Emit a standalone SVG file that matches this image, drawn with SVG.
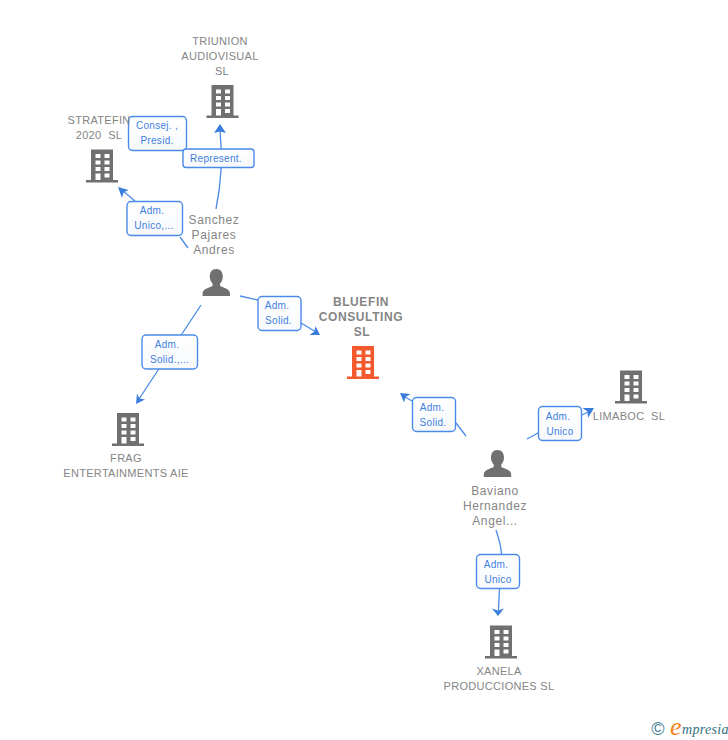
<svg xmlns="http://www.w3.org/2000/svg" width="728" height="740" viewBox="0 0 728 740">
<style>
.t{font-family:"Liberation Sans",Arial,sans-serif;font-size:11px;fill:#858585;text-anchor:middle;letter-spacing:.3px;white-space:pre}
.p{font-size:12px;letter-spacing:.6px}
.b{font-weight:bold;font-size:12px;letter-spacing:.6px}
.l{font-family:"Liberation Sans",Arial,sans-serif;font-size:10px;fill:#3f7fe0;text-anchor:middle;letter-spacing:.3px}
.box{fill:url(#g);stroke:#4a8be8;stroke-width:1.4}
.c{fill:none;stroke:#4a8be8;stroke-width:1.3}
.a{fill:#3a7ddd}
</style>
<defs>
<linearGradient id="g" x1="0" y1="0" x2="0" y2="1"><stop offset="0" stop-color="#ffffff"/><stop offset="1" stop-color="#f7f9fc"/></linearGradient>
<path id="bld" fill-rule="evenodd" d="M-11-0H11V30.500H16V33H-16V30.500H-11ZM-6.500 4.500V8.500H-1.500V4.500ZM2.500 4.500V8.500H7.500V4.500ZM-6.500 11V15H-1.500V11ZM2.500 11V15H7.500V11ZM-6.500 17.500V21.500H-1.500V17.500ZM2.500 17.500V21.500H7.500V17.500ZM-6.500 24V30.500H-1.500V24ZM2.500 24V28H7.500V24Z"/>
<path id="per" d="M0 0C4.500 0 6.500 3.500 6.500 7.500C6.500 10.500 5.300 13 3.800 14.500V17C6 18.500 13.700 19.500 13.700 24.500V27H-13.700V24.500C-13.700 19.500 -6 18.500 -3.800 17V14.500C-5.300 13 -6.500 10.500 -6.500 7.500C-6.500 3.500 -4.500 0 0 0Z"/>
</defs>
<rect width="728" height="740" fill="#ffffff"/>
<g id="connectors">
<path class="c" d="M216 209Q224 170 220 130"/><path class="a" d="M220 124L226 133L220 131.500L214 133Z"/>
<path class="c" d="M188 248L180 237M135 201L123 191"/><path class="a" d="M118 187L128.500 190L123.500 192.500L122 198Z"/>
<path class="c" d="M201 305L139 399"/><path class="a" d="M136 404L137 393.500L139.500 398.500L145 399.500Z"/>
<path class="c" d="M240 296L258 300M301 323L316 332"/><path class="a" d="M320 335L309.500 335L314.500 331.500L315.500 326Z"/>
<path class="c" d="M466 436L456 423M412 401L405 397"/><path class="a" d="M400 393L410.500 394L405.500 397L404 402.500Z"/>
<path class="c" d="M527 439L538 433M582 415L590 411"/><path class="a" d="M594 408L588 418L587.500 411.500L582.500 408Z"/>
<path class="c" d="M496 530Q501 545 501.500 554M499.500 589L498.500 610"/><path class="a" d="M498 616L492 608.500L498 610.500L504 608.500Z"/>
</g>
<g id="edge-labels">
<rect class="box" x="128.500" y="116.500" width="58" height="34" rx="4"/><text class="l" x="157" y="129">Consej. ,</text><text class="l" x="157" y="144">Presid.</text>
<rect class="box" x="183" y="149" width="71" height="18.500" rx="3"/><text class="l" x="216" y="162">Represent.</text>
<rect class="box" x="127" y="201.500" width="55.500" height="34" rx="4"/><text class="l" x="152" y="214">Adm.</text><text class="l" x="154" y="229">Unico,...</text>
<rect class="box" x="258" y="296.500" width="43" height="34" rx="4"/><text class="l" x="277" y="309">Adm.</text><text class="l" x="278.500" y="324">Solid.</text>
<rect class="box" x="142" y="335" width="55.500" height="34" rx="4"/><text class="l" x="167" y="348">Adm.</text><text class="l" x="169.500" y="363">Solid.,...</text>
<rect class="box" x="412.500" y="397.500" width="43" height="34" rx="4"/><text class="l" x="432" y="411">Adm.</text><text class="l" x="433" y="426">Solid.</text>
<rect class="box" x="538.500" y="406.500" width="43" height="34" rx="4"/><text class="l" x="558" y="420">Adm.</text><text class="l" x="560" y="435">Unico</text>
<rect class="box" x="476.500" y="554.500" width="43" height="34" rx="4"/><text class="l" x="496" y="568">Adm.</text><text class="l" x="498" y="583">Unico</text>
</g>
<g id="node-triunion"><text class="t" x="220" y="45">TRIUNION</text><text class="t" x="220" y="60">AUDIOVISUAL</text><text class="t" x="222" y="75">SL</text><use href="#bld" x="222.500" y="85" fill="#707070"/></g>
<g id="node-stratefin"><text class="t" x="99" y="124">STRATEFIN</text><text class="t" x="99" y="139">2020  SL</text><use href="#bld" x="102" y="149.500" fill="#707070"/></g>
<g id="node-sanchez"><text class="t p" x="214" y="224">Sanchez</text><text class="t p" x="214" y="239">Pajares</text><text class="t p" x="214" y="254">Andres</text><use href="#per" x="216.300" y="269" fill="#707070"/></g>
<g id="node-bluefin"><text class="t b" x="361" y="306">BLUEFIN</text><text class="t b" x="361" y="321">CONSULTING</text><text class="t b" x="362" y="336">SL</text><use href="#bld" x="363" y="346" fill="#f4592e"/></g>
<g id="node-frag"><text class="t" x="126" y="462">FRAG</text><text class="t" x="126" y="477">ENTERTAINMENTS AIE</text><use href="#bld" x="128" y="413" fill="#707070"/></g>
<g id="node-limaboc"><text class="t" x="629" y="420">LIMABOC  SL</text><use href="#bld" x="631" y="370.500" fill="#707070"/></g>
<g id="node-baviano"><text class="t p" x="495" y="495">Baviano</text><text class="t p" x="495" y="510">Hernandez</text><text class="t p" x="495" y="525">Angel...</text><use href="#per" x="497.500" y="450" fill="#707070"/></g>
<g id="node-xanela"><text class="t" x="499" y="675">XANELA</text><text class="t" x="499" y="690">PRODUCCIONES SL</text><use href="#bld" x="501" y="625.500" fill="#707070"/></g>
<g id="logo"><text x="658" y="735" font-family="'Liberation Sans',sans-serif" font-size="18" fill="#3f7d90" text-anchor="middle">©</text><text x="670" y="735" font-family="'Liberation Serif',serif" font-style="italic" font-size="26" fill="#f58220">e</text><text x="682" y="734" font-family="'Liberation Serif',serif" font-style="italic" font-size="14" fill="#2f6f80" letter-spacing=".3">mpresia</text></g>
</svg>
